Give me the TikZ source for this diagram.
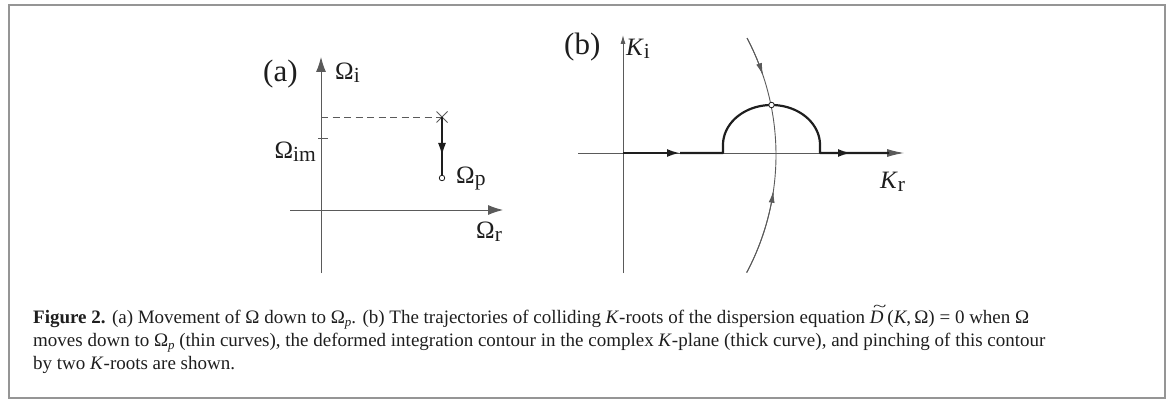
\documentclass[tikz,border=0pt]{standalone}
\usepackage{fontspec}
\setmainfont{Liberation Serif}
\usetikzlibrary{arrows.meta,calc}
\definecolor{axisgray}{HTML}{5A5A5A}
\definecolor{ink}{HTML}{1E1E1E}
\definecolor{framegray}{HTML}{959595}
\newcommand\dsub[1]{\raisebox{-0.12em}{\scalebox{0.86}{#1}}}
\newcommand\capsub[1]{\raisebox{-0.2em}{\scalebox{0.68}{#1}}}
\tikzset{
  axisline/.style={draw=axisgray, line width=0.9pt},
  thinroot/.style={draw=axisgray, line width=0.9pt},
  contour/.style={draw=ink, line width=2.2pt},
  lbl/.style={inner sep=0pt, text=ink, font=\fontsize{25}{28}\selectfont},
  panel/.style={inner sep=0pt, text=ink, font=\fontsize{31}{34}\selectfont},
  captext/.style={inner sep=0pt, text=ink, anchor=base west, font=\fontsize{19}{22}\selectfont},
  dot/.style={circle, draw=ink, fill=white, line width=0.8pt, minimum size=5.5pt, inner sep=0pt},
  bigtip/.style={-{Latex[length=15pt,width=10pt]}},
  midtip/.style={-{Latex[length=13pt,width=8pt]}},
  smalltip/.style={-{Latex[length=9pt,width=5pt]}},
  thintip/.style={-{Latex[length=12pt,width=6pt]}},
}
\begin{document}
\begin{tikzpicture}[x=1pt,y=-1pt]
\useasboundingbox (0,0) rectangle (1168,401);
\draw[framegray, line width=2pt] (9,5) rectangle (1165,398);

% ---------- panel (a)
\coordinate (aBot) at (321,273);
\coordinate (aTop) at (321,57);
\coordinate (aLeft) at (290,210);
\coordinate (aRight) at (503,210);
\coordinate (aDash) at (321,117);
\coordinate (aTickL) at (318,138);
\coordinate (aTickR) at (328,138);
\coordinate (cross) at (442,117);
\coordinate (aMid) at (442,156);
\node[dot] (Op) at (442,178) {};
\draw[axisline, bigtip] (aBot) -- (aTop);
\draw[axisline, bigtip] (aLeft) -- (aRight);
\draw[axisline, dash pattern=on 7pt off 4.5pt] (aDash) -- (cross);
\draw[axisline] (aTickL) -- (aTickR);
\draw[axisline] ($(cross)+(-5.5,-5.5)$) -- ($(cross)+(5.5,5.5)$);
\draw[axisline] ($(cross)+(-5.5,5.5)$) -- ($(cross)+(5.5,-5.5)$);
\draw[draw=ink, line width=2pt, midtip] (cross) -- (aMid);
\draw[draw=ink, line width=2pt] (442,150) -- (Op);

\node[panel, anchor=base west] (la) at (263,82) {(a)};
\node[lbl, anchor=base west] (lOi) at (335,80) {Ω\dsub{i}};
\node[lbl, anchor=base east] (lOim) at (316,159) {Ω\dsub{im}};
\node[lbl, anchor=base west] (lOp) at (456,183) {Ω\dsub{p}};
\node[lbl, anchor=base west] (lOr) at (476,238) {Ω\dsub{r}};

% ---------- panel (b)
\coordinate (bBot) at (623,273);
\coordinate (bTop) at (623,35);
\coordinate (bLeft) at (578,153);
\coordinate (bRight) at (904,153);
\coordinate (bO) at (623,153);
\coordinate (c1) at (680,153);
\coordinate (c2) at (723,153);
\coordinate (c3) at (820,153);
\coordinate (c4) at (851,153);
\coordinate (c5) at (889,153);
\draw[axisline, smalltip] (bBot) -- (bTop);
\draw[axisline, -{Latex[length=17pt,width=8pt]}] (bLeft) -- (bRight);
\draw[contour, midtip] (bO) -- (c1);
\draw[contour, line join=round] (c1) -- (c2) -- (723,145)
   -- plot[domain=180:360, samples=80] ({771.5+48.5*cos(\x)},{145+40*sin(\x)})
   -- (c3) -- (c5);
\draw[contour, midtip] (c3) -- (c4);

% thin root trajectories
\draw[thinroot] plot[domain=-27.8:28, samples=100] ({525.5+250.5*cos(\x)},{155+250.5*sin(\x)});
\draw[thinroot, thintip] plot[domain=-27.8:-18.6, samples=30] ({525.5+250.5*cos(\x)},{155+250.5*sin(\x)});
\draw[thinroot, thintip] plot[domain=28:8.2, samples=40] ({525.5+250.5*cos(\x)},{155+250.5*sin(\x)});
\node[dot] (pinch) at (771.5,105) {};

\node[panel, anchor=base west] (lb) at (564,55) {(b)};
\node[lbl, anchor=base west] (lKi) at (626,56) {\textit{K}\dsub{i}};
\node[lbl, anchor=base west] (lKr) at (880,189) {\textit{K}\dsub{r}};

% ---------- caption
\node[captext] (cap1) at (33,323) {\textbf{Figure 2.} (a) Movement of Ω down to Ω\capsub{\itshape p}. (b) The trajectories of colliding \textit{K}-roots of the dispersion equation \textit{D}\kern-0.55em\raisebox{0.62em}{\scalebox{1.3}[0.8]{\char"007E}}\kern0.05em(\textit{K},\,Ω) = 0 when Ω};
\node[captext] (cap2) at (33,346) {moves down to Ω\capsub{\itshape p} (thin curves), the deformed integration contour in the complex \textit{K}-plane (thick curve), and pinching of this contour};
\node[captext] (cap3) at (33,369) {by two \textit{K}-roots are shown.};
\end{tikzpicture}
\end{document}
